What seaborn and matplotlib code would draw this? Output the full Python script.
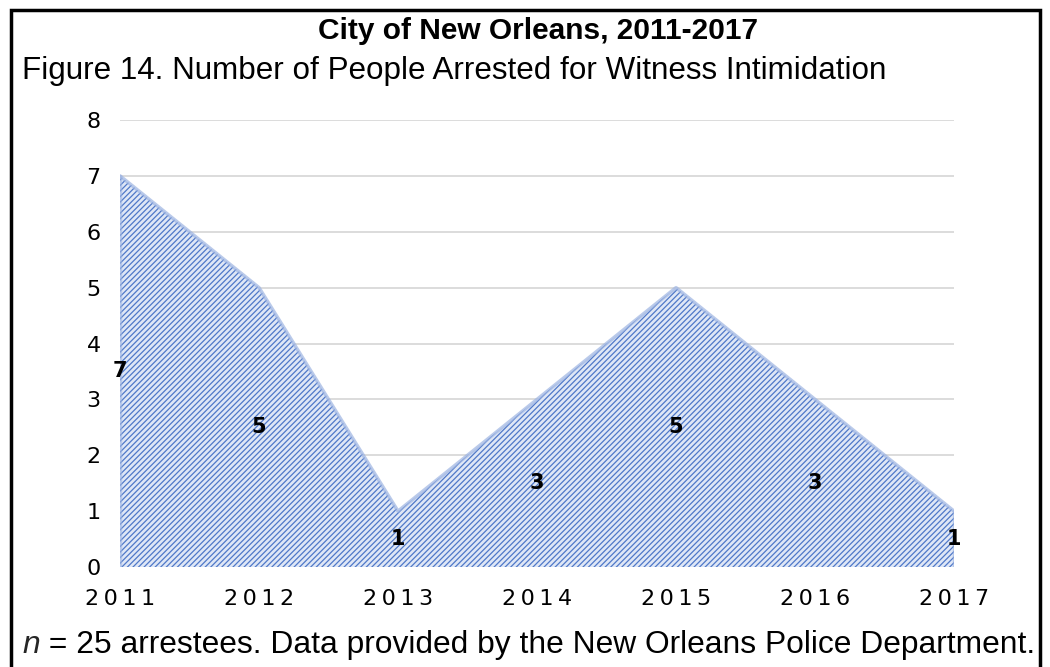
import matplotlib
matplotlib.use("Agg")
import matplotlib.pyplot as plt
import seaborn as sns
import pandas as pd
from matplotlib.patches import Rectangle

years = [2011, 2012, 2013, 2014, 2015, 2016, 2017]
arrests = [7, 5, 1, 3, 5, 3, 1]
y_ticks = [0, 1, 2, 3, 4, 5, 6, 7, 8]

title = "City of New Orleans, 2011-2017"
subtitle = "Figure 14. Number of People Arrested for Witness Intimidation"
note_rest = " = 25 arrestees. Data provided by the New Orleans Police Department."

df = pd.DataFrame({"year": years, "arrests": arrests})

sns.set_theme(style="white")
plt.rcParams["font.family"] = ["DejaVu Sans"]
plt.rcParams["hatch.linewidth"] = 0.9
plt.rcParams["hatch.color"] = "#4f78c8"

fig = plt.figure(figsize=(10.5, 6.67), dpi=100)
ax = fig.add_axes([0.1143, 0.1499, 0.7943, 0.6702])

# hatched area under the series
ax.fill_between(df["year"], 0, df["arrests"], facecolor="#dfe7f6",
                edgecolor="#4f78c8", hatch="//////", linewidth=0, zorder=2)
sns.lineplot(data=df, x="year", y="arrests", ax=ax, color="#9db4e2",
             linewidth=2.5, alpha=0.7, zorder=3)
for i in (0, -1):
    ax.plot([years[i], years[i]], [0, arrests[i]], color="#9db4e2",
            linewidth=2.5, alpha=0.6, zorder=3)

# value labels at mid-height of the area
for x, v in zip(years, arrests):
    ax.text(x, v / 2, str(v), ha="center", va="center", fontsize=15,
            fontweight="bold", color="black", zorder=4)

ax.set_xlim(years[0], years[-1])
ax.set_ylim(0, 8)
ax.set_yticks(y_ticks)
ax.set_xticks(years)
ax.set_xticklabels(["\u2009".join(str(y)) for y in years])
ax.yaxis.grid(True, color="#d9d9d9", linewidth=1.3, zorder=0)
ax.xaxis.grid(False)
ax.set_axisbelow(True)
for s in ax.spines.values():
    s.set_visible(False)
ax.tick_params(axis="y", length=0, pad=14, labelsize=16, labelcolor="black")
ax.tick_params(axis="x", length=0, pad=16, labelsize=16, labelcolor="black")
ax.set_xlabel("")
ax.set_ylabel("")

fig.text(0.512, 0.954, title, ha="center", va="center", fontsize=21.5,
         fontweight="bold", family=["Liberation Sans", "DejaVu Sans"],
         color="black")
fig.text(0.021, 0.893, subtitle, ha="left", va="center", fontsize=22.6,
         family=["Liberation Sans", "DejaVu Sans"], color="black")
t = fig.text(0.021, 0.033, "n", ha="left", va="center", fontsize=22.9,
             style="italic", family=["Liberation Sans", "DejaVu Sans"])
fig.canvas.draw()
bb = t.get_window_extent()
x1 = bb.x1 / fig.bbox.width
fig.text(x1, 0.033, note_rest, ha="left", va="center", fontsize=22.9,
         family=["Liberation Sans", "DejaVu Sans"], color="black")

# frame around the figure
fig.patches.append(Rectangle((0.0105, -0.05), 0.9795, 1.035,
                             transform=fig.transFigure, fill=False,
                             edgecolor="black", linewidth=2.5))

fig.savefig("out.png", dpi=100)
